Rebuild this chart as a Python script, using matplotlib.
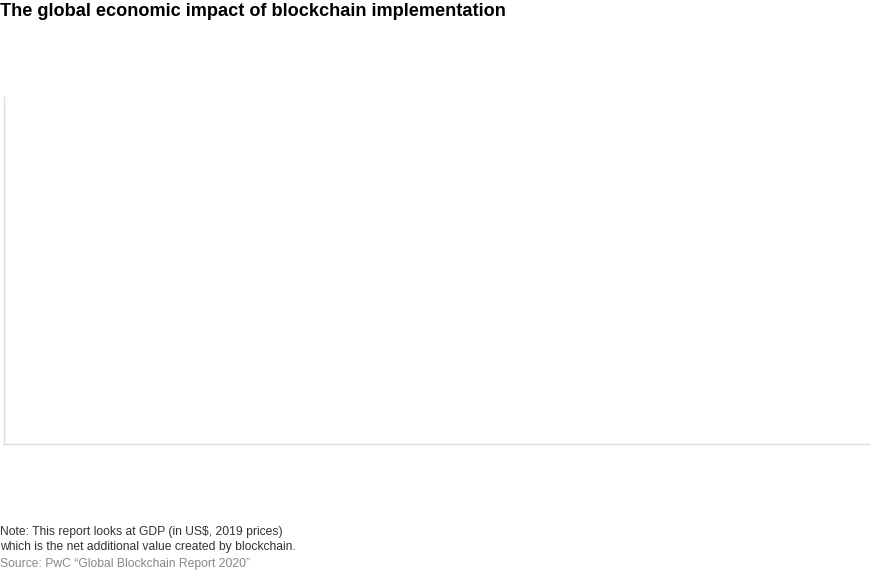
import matplotlib
matplotlib.use("Agg")
import matplotlib.pyplot as plt

# Dados do gráfico (o original não mostra nenhuma barra)
categorias = []
valores = []

titulo = "The global economic impact of blockchain implementation"
nota = ["Note: This report looks at GDP (in US$, 2019 prices)",
        "which is the net additional value created by blockchain."]
fonte = "Source: PwC \u201cGlobal Blockchain Report 2020\u201d"

plt.rcParams["font.family"] = ["Liberation Sans", "DejaVu Sans"]

fig = plt.figure(figsize=(8.85, 5.72), dpi=100)
ax = fig.add_axes([4 / 885, 128 / 572, 865 / 885, 347 / 572])

ax.bar(categorias, valores, color="#1167b1")

# Eixos: apenas linhas cinza claras à esquerda e embaixo
for lado in ["top", "right"]:
    ax.spines[lado].set_visible(False)
for lado in ["left", "bottom"]:
    ax.spines[lado].set_color("#dddddd")
    ax.spines[lado].set_linewidth(1.0)
ax.set_xticks([])
ax.set_yticks([])

# Título
fig.text(0.0, 1 - 11 / 572, titulo, fontsize=13.1, fontweight="bold",
         color="#000000", ha="left", va="center")

# Nota e fonte
fig.text(0.0, 1 - 532 / 572, nota[0], fontsize=8.7, color="#333333",
         ha="left", va="center")
fig.text(0.0, 1 - 547 / 572, nota[1], fontsize=8.7, color="#333333",
         ha="left", va="center")
fig.text(0.0, 1 - 564 / 572, fonte, fontsize=8.7, color="#888888",
         ha="left", va="center")

plt.savefig("out.png", dpi=100)
